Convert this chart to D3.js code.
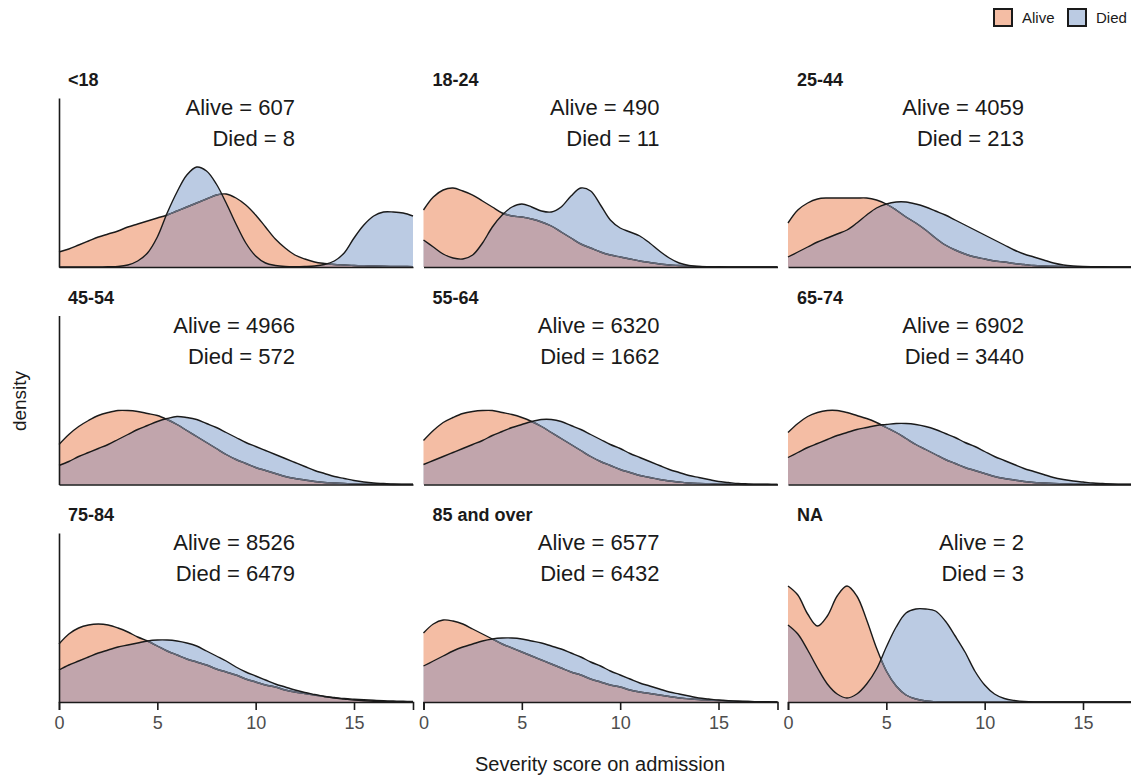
<!DOCTYPE html>
<html>
<head>
<meta charset="utf-8">
<script src="https://cdn.jsdelivr.net/npm/d3@7"></script>
<style>
  body { margin: 0; background: #fff; }
  text { font-family: "Liberation Sans", Arial, Helvetica, sans-serif; }
</style>
</head>
<body>
<script>
//data
const groups = ["<18", "18-24", "25-44", "45-54", "55-64", "65-74", "75-84", "85 and over", "NA"];
const nAlive = [607, 490, 4059, 4966, 6320, 6902, 8526, 6577, 2];
const nDied = [8, 11, 213, 572, 1662, 3440, 6479, 6432, 3];
const xTicks = [0, 5, 10, 15];

// severity score grid the densities were read at
const score = [0, 0.5, 1, 1.5, 2, 2.5, 3, 3.5, 4, 4.5, 5, 5.5, 6, 6.5, 7, 7.5, 8, 8.5, 9,
  9.5, 10, 10.5, 11, 11.5, 12, 12.5, 13, 13.5, 14, 14.5, 15, 15.5, 16, 16.5, 17, 17.5, 18];

// density of severity score, survivors, one row per age group
const aliveDensity = [
  [.015, .018, .022, .026, .030, .033, .036, .040, .043, .046, .049, .052, .056, .060, .064, .068, .072, .073, .069,
   .062, .052, .040, .028, .019, .012, .008, .005, .0035, .0025, .002, .0015, .0012, .001, .0008, .0006, .0005, .0004],
  [.057, .070, .077, .079, .076, .072, .066, .060, .054, .051, .050, .048, .045, .041, .035, .029, .023, .019, .015,
   .012, .010, .008, .006, .0045, .003, .002, .0015, .001, .0005, .0003, .0002, .0001, .0001, 0, 0, 0, 0],
  [.044, .057, .064, .068, .069, .069, .069, .069, .069, .067, .063, .057, .050, .044, .037, .029, .022, .017, .013,
   .010, .008, .006, .005, .0035, .0025, .0015, .001, .0007, .0004, .0002, .0001, 0, 0, 0, 0, 0, 0],
  [.040, .050, .058, .064, .069, .072, .074, .074, .073, .071, .069, .065, .060, .054, .048, .042, .036, .030, .025,
   .021, .017, .014, .011, .008, .006, .0045, .003, .002, .0015, .001, .0005, .0003, .0002, .0001, 0, 0, 0],
  [.044, .054, .062, .067, .071, .073, .074, .074, .072, .070, .067, .063, .058, .052, .046, .040, .034, .028, .023,
   .019, .015, .012, .009, .007, .005, .0035, .0025, .0015, .001, .0007, .0004, .0002, .0001, 0, 0, 0, 0],
  [.052, .061, .068, .072, .074, .074, .072, .069, .066, .062, .057, .052, .046, .040, .035, .030, .025, .021, .017,
   .014, .011, .008, .006, .0045, .003, .002, .0015, .001, .0006, .0004, .0002, .0001, 0, 0, 0, 0, 0],
  [.058, .068, .074, .077, .078, .077, .074, .070, .065, .061, .056, .051, .047, .043, .040, .037, .033, .030, .027,
   .023, .020, .017, .015, .012, .010, .0085, .007, .0055, .0045, .0035, .0028, .0022, .0017, .0013, .001, .0007, .0005],
  [.069, .078, .082, .081, .078, .073, .068, .063, .058, .054, .050, .046, .042, .038, .034, .030, .027, .023, .020,
   .017, .015, .012, .010, .0085, .007, .0055, .004, .0032, .0025, .002, .0015, .001, .0007, .0005, .0003, .0002, .0001],
  [.116, .107, .088, .076, .086, .106, .116, .106, .082, .054, .031, .016, .007, .003, .001, .0003, 0, 0, 0,
   0, 0, 0, 0, 0, 0, 0, 0, 0, 0, 0, 0, 0, 0, 0, 0, 0, 0]
];

// density of severity score, deaths
const diedDensity = [
  [0, 0, 0, 0, 0, .0002, .0005, .002, .006, .014, .030, .054, .075, .092, .100, .096, .083, .064, .043,
   .024, .011, .004, .0015, .0005, .0003, .0005, .001, .0025, .006, .014, .029, .042, .051, .055, .055, .054, .051],
  [.027, .020, .013, .009, .008, .012, .024, .040, .052, .060, .063, .060, .056, .055, .060, .071, .079, .076, .062,
   .047, .039, .035, .031, .024, .016, .009, .004, .0015, .0005, .0002, .0001, 0, 0, 0, 0, 0, 0],
  [.010, .015, .020, .025, .029, .033, .037, .044, .052, .059, .063, .065, .065, .063, .060, .056, .052, .047, .042,
   .037, .032, .027, .022, .017, .013, .010, .007, .004, .002, .001, .0005, .0003, .0002, .0001, 0, 0, 0],
  [.019, .023, .028, .032, .036, .040, .045, .050, .055, .059, .063, .066, .068, .067, .065, .061, .057, .052, .047,
   .042, .038, .034, .030, .026, .022, .018, .014, .011, .008, .006, .004, .0025, .0015, .001, .0005, .0003, .0002],
  [.020, .024, .028, .032, .036, .040, .044, .049, .053, .057, .060, .063, .065, .065, .063, .059, .055, .050, .045,
   .040, .036, .031, .027, .023, .019, .015, .012, .009, .007, .005, .003, .002, .001, .0006, .0003, .0002, .0001],
  [.027, .032, .037, .041, .045, .049, .052, .055, .057, .059, .060, .061, .061, .060, .058, .055, .051, .047, .042,
   .038, .033, .028, .024, .020, .016, .013, .010, .007, .005, .0035, .0025, .0015, .001, .0006, .0003, .0002, .0001],
  [.032, .037, .041, .045, .049, .052, .055, .057, .059, .061, .062, .062, .061, .059, .056, .051, .046, .041, .035,
   .030, .026, .022, .018, .015, .012, .0095, .0075, .0055, .004, .003, .002, .0013, .0008, .0005, .0003, .0002, .0001],
  [.036, .041, .046, .051, .055, .058, .061, .063, .064, .064, .063, .061, .059, .056, .053, .049, .045, .040, .036,
   .031, .027, .023, .019, .016, .013, .010, .008, .006, .004, .003, .002, .0013, .0008, .0005, .0003, .0002, .0001],
  [.077, .068, .052, .034, .018, .008, .004, .008, .018, .033, .055, .075, .089, .093, .093, .091, .081, .066, .050,
   .031, .017, .008, .0035, .0015, .0005, 0, 0, 0, 0, 0, 0, 0, 0, 0, 0, 0, 0]
];

//constants
const W = 1131, H = 777;
const panelW = 354, panelH = 169;
const left = 59, top0 = 98;
const colStep = 364.5, rowStep = 217.5;
const ink = "#1a1a1a";
const aliveFill = "#f4bda4";
const diedFill = "#bbcbe3";
const overlapFill = "#c1a5ac";

const svg = d3.select("body").append("svg")
    .attr("width", W)
    .attr("height", H);

const defs = svg.append("defs");

const x = d3.scaleLinear().domain([0, 18]).range([0, panelW]);
const y = d3.scaleLinear().domain([0, 0.169]).range([panelH, 0]);

const area = d3.area()
    .x(d => x(d[0]))
    .y0(panelH)
    .y1(d => Math.min(panelH, y(d[1])))
    .curve(d3.curveCatmullRom.alpha(0.5));
const line = area.lineY1();

groups.forEach((g, i) => {
    const col = i % 3, row = Math.floor(i / 3);
    const panel = svg.append("g")
        .attr("transform", "translate(" + (left + col * colStep) + "," + (top0 + row * rowStep) + ")");

    const alive = score.map((s, j) => [s, aliveDensity[i][j]]);
    const died = score.map((s, j) => [s, diedDensity[i][j]]);

    //clip paths for the overlap
    defs.append("clipPath").attr("id", "ca" + i)
        .append("path").attr("d", area(alive));
    defs.append("clipPath").attr("id", "cd" + i)
        .append("path").attr("d", area(died));

    //areas
    panel.append("path").attr("d", area(alive)).attr("fill", aliveFill);
    panel.append("path").attr("d", area(died)).attr("fill", diedFill);
    panel.append("path").attr("d", area(died)).attr("fill", overlapFill)
        .attr("clip-path", "url(#ca" + i + ")");

    //outlines
    panel.append("path").attr("d", line(alive))
        .attr("fill", "none").attr("stroke", ink).attr("stroke-width", 1.4);
    panel.append("path").attr("d", line(alive))
        .attr("fill", "none").attr("stroke", "#646a7a").attr("stroke-width", 1.4)
        .attr("clip-path", "url(#cd" + i + ")");
    panel.append("path").attr("d", line(died))
        .attr("fill", "none").attr("stroke", ink).attr("stroke-width", 1.4);

    //x axis
    const xAxis = d3.axisBottom(x).tickSizeOuter(0);
    if (row === 2) {
        xAxis.tickValues(xTicks).tickSize(8).tickPadding(6);
    } else {
        xAxis.tickValues([]);
    }
    const gX = panel.append("g")
        .attr("transform", "translate(0," + panelH + ")")
        .call(xAxis);
    gX.select(".domain").attr("stroke", ink).attr("stroke-width", 1.6);
    gX.selectAll(".tick line").attr("stroke", ink).attr("stroke-width", 1.6);
    gX.selectAll(".tick text")
        .style("font-size", "18px")
        .style("font-family", "'Liberation Sans', Arial, sans-serif")
        .attr("fill", "#4d4d4d");

    //y axis, left column only
    if (col === 0) {
        const gY = panel.append("g")
            .call(d3.axisLeft(y).tickValues([]).tickSizeOuter(0));
        gY.select(".domain").attr("stroke", ink).attr("stroke-width", 1.6);
    }

    //facet title
    panel.append("text")
        .attr("x", 9)
        .attr("y", -12)
        .style("font-size", "18px")
        .style("font-weight", "bold")
        .attr("fill", ink)
        .text(g);

    //counts
    panel.append("text")
        .attr("x", x(12))
        .attr("y", 17)
        .attr("text-anchor", "end")
        .style("font-size", "22px")
        .attr("fill", ink)
        .text("Alive = " + nAlive[i]);
    panel.append("text")
        .attr("x", x(12))
        .attr("y", 48)
        .attr("text-anchor", "end")
        .style("font-size", "22px")
        .attr("fill", ink)
        .text("Died = " + nDied[i]);
});

//axis labels
svg.append("text")
    .attr("x", 600)
    .attr("y", 771)
    .attr("text-anchor", "middle")
    .style("font-size", "20px")
    .attr("fill", ink)
    .text("Severity score on admission");

svg.append("text")
    .attr("transform", "translate(26,401) rotate(-90)")
    .attr("text-anchor", "middle")
    .style("font-size", "19px")
    .attr("fill", ink)
    .text("density");

//legend
const legend = svg.append("g").attr("transform", "translate(994,9)");
[["Alive", aliveFill, 0], ["Died", diedFill, 74]].forEach(d => {
    legend.append("rect")
        .attr("x", d[2])
        .attr("y", 0)
        .attr("width", 18)
        .attr("height", 17)
        .attr("fill", d[1])
        .attr("stroke", ink)
        .attr("stroke-width", 2);
    legend.append("text")
        .attr("x", d[2] + 28)
        .attr("y", 14)
        .style("font-size", "15px")
        .attr("fill", ink)
        .text(d[0]);
});
</script>
</body>
</html>
